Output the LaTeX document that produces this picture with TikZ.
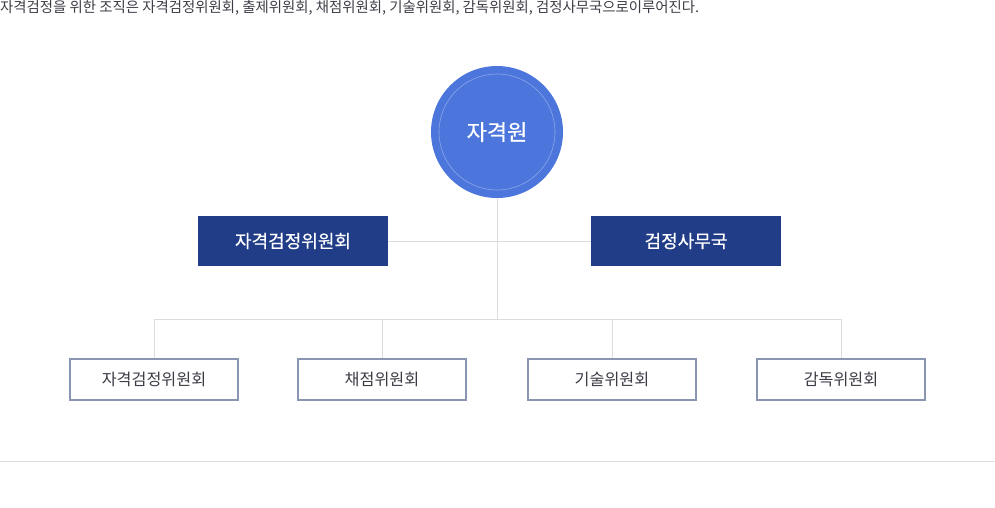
\documentclass[tikz,border=0pt]{standalone}
\usepackage{fontspec}
\setmainfont{Noto Sans CJK KR}
\newfontfamily\krmedium[FakeBold=0.5]{Noto Sans CJK KR}
\usepackage{tikz}
\usetikzlibrary{calc}
\definecolor{agencyblue}{RGB}{76,118,220}
\definecolor{ringblue}{RGB}{140,168,232}
\definecolor{navy}{RGB}{33,61,135}
\definecolor{boxline}{RGB}{138,149,178}
\definecolor{wire}{RGB}{220,220,220}
\definecolor{bodytext}{RGB}{60,60,70}
\tikzset{
	topbox/.style = {fill = navy, text = white, minimum width = 190pt, minimum height = 50pt, inner sep = 0pt, font = \krmedium\fontsize{18}{20}\selectfont},
	subbox/.style = {draw = boxline, line width = 2pt, fill = white, text = bodytext, minimum width = 168pt, minimum height = 41pt, inner sep = 0pt, font = \fontsize{16.2}{18}\selectfont},
	wireline/.style = {draw = wire, line width = 0.8pt}
}
\begin{document}
\begin{tikzpicture}[x = 1pt, y = -1pt]
		\useasboundingbox (0,0) rectangle (995,507);
		\def\busY{319};

		\node [anchor = north west, inner sep = 0pt, text = bodytext, font = \fontsize{14.4}{16}\selectfont] (caption) at (0,0) {자격검정을 위한 조직은 자격검정위원회, 출제위원회, 채점위원회, 기술위원회, 감독위원회, 검정사무국으로이루어진다.};

		% upper level
		\node [circle, fill = agencyblue, minimum size = 132pt, inner sep = 0pt] (agency) at (497,132) {};
		\node [circle, draw = ringblue, line width = 0.6pt, minimum size = 116pt, inner sep = 0pt, text = white, font = \krmedium\fontsize{22}{24}\selectfont] (ring) at (agency) {자격원};
		\node [topbox] (council) at (293,241) {자격검정위원회};
		\node [topbox] (office) at (686,241) {검정사무국};

		% lower level
		\node [subbox] (exam) at (154,379) {자격검정위원회};
		\node [subbox] (grading) at (382,379) {채점위원회};
		\node [subbox] (tech) at (612,379) {기술위원회};
		\node [subbox] (proctor) at (841,379) {감독위원회};

		\coordinate (hub) at (497,\busY);
		\begin{scope}[wireline]
			\draw (council.east) -- (office.west);
			\draw (agency.south) -- (hub);
			\draw (exam.north) |- (proctor.north |- hub) -- (proctor.north);
			\draw (grading.north) -- (grading.north |- hub);
			\draw (tech.north) -- (tech.north |- hub);
		\end{scope}

		\coordinate (ruleL) at (0,461);
		\coordinate (ruleR) at (995,461);
		\draw [draw = wire, line width = 1pt] (ruleL) -- (ruleR);
	\end{tikzpicture}
\end{document}
